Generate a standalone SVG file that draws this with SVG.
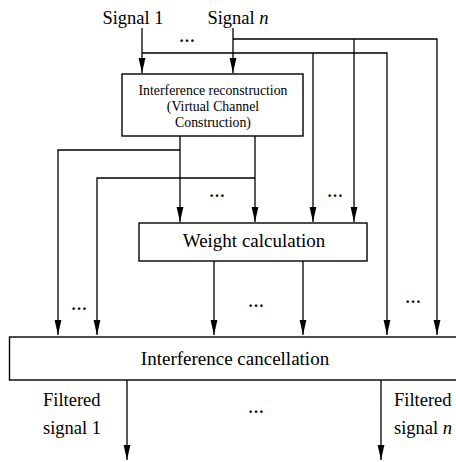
<svg xmlns="http://www.w3.org/2000/svg" width="456" height="462" viewBox="0 0 456 462">
<style>
.box{fill:#fff;stroke:#000;stroke-width:1.4}
.ln{fill:none;stroke:#000;stroke-width:1.3}
.t{font-family:"Liberation Serif","Times New Roman",serif;fill:#000}
</style>
<defs>
<marker id="a" markerUnits="userSpaceOnUse" markerWidth="16" markerHeight="8" viewBox="0 0 16 8" refX="15" refY="4" orient="auto">
<path d="M0,0.6 L15,4 L0,7.4 Z" fill="#000"/>
</marker>
</defs>
<rect width="456" height="462" fill="#fff"/>
<g id="connectors">
<path class="ln" d="M142,28 V73" marker-end="url(#a)"/>
<path class="ln" d="M233,28 V73" marker-end="url(#a)"/>
<path class="ln" d="M233,39 H437 V335" marker-end="url(#a)"/>
<path class="ln" d="M142,53 H387 V335" marker-end="url(#a)"/>
<path class="ln" d="M313,53 V222" marker-end="url(#a)"/>
<path class="ln" d="M354,39 V222" marker-end="url(#a)"/>
<path class="ln" d="M180,136 V222" marker-end="url(#a)"/>
<path class="ln" d="M255,136 V222" marker-end="url(#a)"/>
<path class="ln" d="M180,150 H58 V335" marker-end="url(#a)"/>
<path class="ln" d="M255,178 H97 V335" marker-end="url(#a)"/>
<path class="ln" d="M214,261 V335" marker-end="url(#a)"/>
<path class="ln" d="M303,261 V335" marker-end="url(#a)"/>
<path class="ln" d="M127,380 V460" marker-end="url(#a)"/>
<path class="ln" d="M381,380 V460" marker-end="url(#a)"/>
</g>
<g id="signal1"><text class="t" x="133" y="24" font-size="18.5" text-anchor="middle">Signal 1</text></g>
<g id="signaln"><text class="t" x="238" y="24" font-size="18.5" text-anchor="middle">Signal <tspan font-style="italic">n</tspan></text></g>
<g id="reconstruction">
<rect class="box" x="122" y="74" width="181" height="62"/>
<text class="t" font-size="13.8" text-anchor="middle"><tspan x="213" y="95">Interference reconstruction</tspan><tspan x="213" y="111">(Virtual Channel</tspan><tspan x="213" y="127">Construction)</tspan></text>
</g>
<g id="weight">
<rect class="box" x="139" y="223" width="228" height="38"/>
<text class="t" x="254" y="247" font-size="19" text-anchor="middle">Weight calculation</text>
</g>
<g id="cancellation">
<rect class="box" x="9.5" y="337" width="455" height="43"/>
<text class="t" x="235" y="365" font-size="19" text-anchor="middle">Interference cancellation</text>
</g>
<g id="filtered1"><text class="t" font-size="18.5"><tspan x="43" y="406">Filtered</tspan><tspan x="43" y="434">signal 1</tspan></text></g>
<g id="filteredn"><text class="t" font-size="18.5"><tspan x="394" y="406">Filtered</tspan><tspan x="394" y="434">signal <tspan font-style="italic">n</tspan></tspan></text></g>
<g id="ellipses" class="t" font-size="16" font-weight="bold" text-anchor="middle">
<text x="187" y="42">…</text>
<text x="217" y="197">…</text>
<text x="335" y="197">…</text>
<text x="79" y="310">…</text>
<text x="256" y="307">…</text>
<text x="413" y="303">…</text>
<text x="256" y="413">…</text>
</g>
</svg>
